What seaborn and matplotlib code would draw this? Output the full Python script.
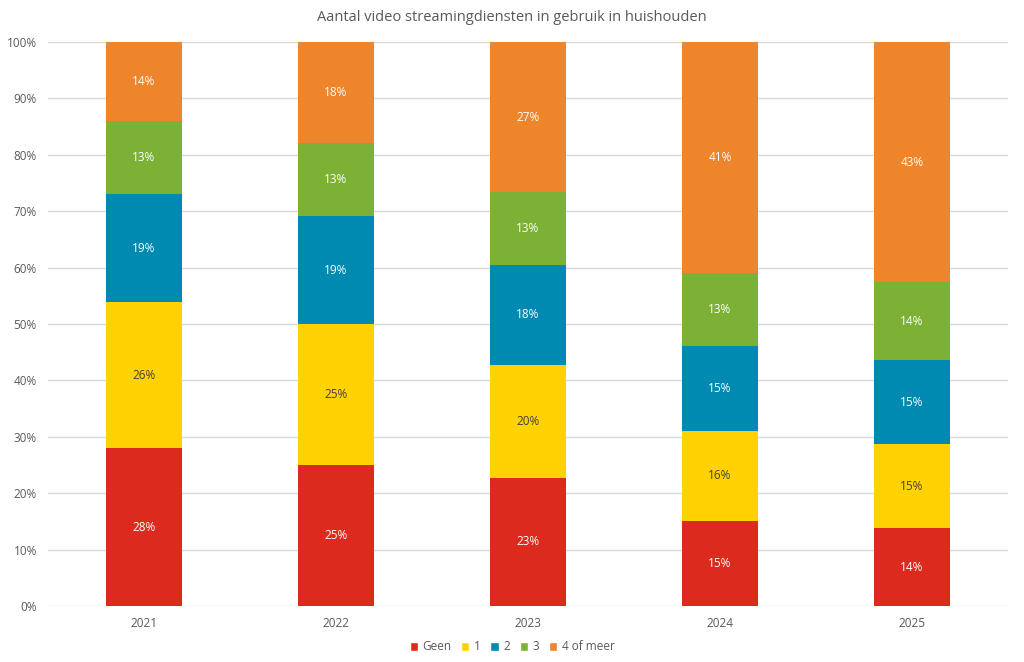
import numpy as np
import pandas as pd
import matplotlib
matplotlib.use("Agg")
import matplotlib.pyplot as plt
import seaborn as sns
from matplotlib.patches import Patch

# Data (percentages)
years = ["2021", "2022", "2023", "2024", "2025"]
categories = ["Geen", "1", "2", "3", "4 of meer"]
geen = [28.0, 25.0, 22.7, 15.1, 13.8]
een = [25.9, 25.0, 20.0, 15.9, 14.9]
twee = [19.1, 19.1, 17.8, 15.1, 14.9]
drie = [13.0, 13.0, 12.9, 12.9, 13.8]
vier_of_meer = [14.0, 17.9, 26.6, 41.0, 42.6]

colors = ["#DD2A1E", "#FFD200", "#0089B1", "#7DB135", "#EF852A"]
label_colors = ["white", "#404040", "white", "white", "white"]

sns.set_theme(style="white")
plt.rcParams["font.family"] = ["Open Sans", "DejaVu Sans"]

df = pd.DataFrame({"jaar": years, "Geen": geen, "1": een, "2": twee,
                   "3": drie, "4 of meer": vier_of_meer})

fig = plt.figure(figsize=(10.24, 6.62), dpi=100)
ax = fig.add_axes([48 / 1024, 56 / 662, 960 / 1024, 564 / 662])

bottom = np.zeros(len(years))
for cat, col, lc in zip(categories, colors, label_colors):
    vals = df[cat].to_numpy()
    sns.barplot(x=df["jaar"], y=vals, bottom=bottom, color=col, width=0.4,
                ax=ax, saturation=1, zorder=3, edgecolor="none", linewidth=0)
    for i, v in enumerate(vals):
        ax.text(i, bottom[i] + v / 2, f"{round(v):.0f}%", ha="center", va="center",
                fontsize=8.5, color=lc, zorder=4)
    bottom = bottom + vals

ax.set_xlim(-0.5, 4.5)
ax.set_ylim(0, 100)
ax.set_yticks(np.arange(0, 101, 10))
ax.set_yticklabels([f"{t}%" for t in range(0, 101, 10)])
ax.grid(axis="y", color="#D9D9D9", linewidth=1, zorder=0)
ax.tick_params(axis="both", labelsize=8.5, colors="#595959", length=0, pad=8)
ax.set_xlabel("")
ax.set_ylabel("")
for s in ax.spines.values():
    s.set_visible(False)

fig.suptitle("Aantal video streamingdiensten in gebruik in huishouden",
             x=0.5, y=0.985, fontsize=10.5, color="#595959")

handles = [Patch(facecolor=c, label=l) for c, l in zip(colors, categories)]
fig.legend(handles=handles, loc="center", bbox_to_anchor=(0.5, 15 / 662), ncol=5,
           frameon=False, fontsize=8.5, handlelength=0.7, handleheight=0.7,
           handletextpad=0.4, columnspacing=0.8, labelcolor="#595959")

fig.savefig("out.png", dpi=100)
